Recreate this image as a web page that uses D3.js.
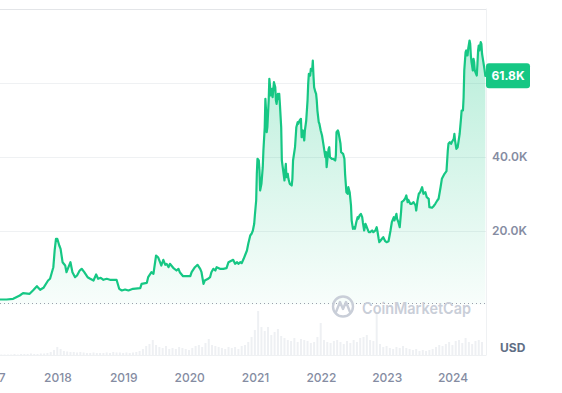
<!DOCTYPE html>
<html>
<head>
<meta charset="utf-8">
<script src="https://cdn.jsdelivr.net/npm/d3@7"></script>
<style>
  html, body { margin: 0; padding: 0; background: #fff; }
  svg { display: block; font-family: Inter, "Noto Sans", sans-serif; }
</style>
</head>
<body>
<script>
// price series, decimal year -> price in thousands of USD
var priceYears = [
  2017.12, 2017.22, 2017.32, 2017.42, 2017.47, 2017.57, 2017.62, 2017.68, 2017.73, 2017.78,
  2017.85, 2017.88, 2017.93, 2017.95, 2017.97, 2017.99, 2018.02, 2018.04, 2018.07, 2018.11,
  2018.13, 2018.16, 2018.19, 2018.22, 2018.26, 2018.29, 2018.33, 2018.36, 2018.40, 2018.45,
  2018.49, 2018.54, 2018.58, 2018.61, 2018.65, 2018.69, 2018.74, 2018.79, 2018.89, 2018.93,
  2018.97, 2019.02, 2019.07, 2019.14, 2019.25, 2019.27, 2019.35, 2019.37, 2019.42, 2019.45,
  2019.49, 2019.52, 2019.55, 2019.57, 2019.60, 2019.63, 2019.65, 2019.68, 2019.70, 2019.75,
  2019.80, 2019.83, 2019.85, 2019.90, 2019.96, 2020.01, 2020.03, 2020.08, 2020.12, 2020.16,
  2020.18, 2020.21, 2020.23, 2020.28, 2020.31, 2020.33, 2020.36, 2020.39, 2020.41, 2020.46,
  2020.51, 2020.56, 2020.59, 2020.64, 2020.66, 2020.69, 2020.72, 2020.74, 2020.77, 2020.79,
  2020.82, 2020.84, 2020.87, 2020.89, 2020.92, 2020.94, 2020.96, 2020.98, 2020.99, 2021.01,
  2021.02, 2021.03, 2021.05, 2021.06, 2021.07, 2021.09, 2021.11, 2021.12, 2021.14, 2021.15,
  2021.16, 2021.17, 2021.18, 2021.20, 2021.21, 2021.22, 2021.23, 2021.25, 2021.26, 2021.28,
  2021.30, 2021.31, 2021.32, 2021.34, 2021.35, 2021.36, 2021.37, 2021.39, 2021.40, 2021.42,
  2021.44, 2021.45, 2021.46, 2021.47, 2021.49, 2021.50, 2021.52, 2021.55, 2021.56, 2021.57,
  2021.60, 2021.62, 2021.64, 2021.65, 2021.67, 2021.69, 2021.70, 2021.72, 2021.74, 2021.75,
  2021.77, 2021.79, 2021.80, 2021.81, 2021.83, 2021.84, 2021.86, 2021.87, 2021.88, 2021.89,
  2021.91, 2021.92, 2021.93, 2021.94, 2021.96, 2021.97, 2021.99, 2022.01, 2022.03, 2022.06,
  2022.07, 2022.08, 2022.10, 2022.11, 2022.12, 2022.13, 2022.16, 2022.18, 2022.21, 2022.22,
  2022.23, 2022.25, 2022.26, 2022.29, 2022.30, 2022.33, 2022.35, 2022.36, 2022.38, 2022.40,
  2022.41, 2022.43, 2022.45, 2022.46, 2022.48, 2022.50, 2022.51, 2022.53, 2022.55, 2022.56,
  2022.58, 2022.60, 2022.62, 2022.63, 2022.65, 2022.67, 2022.68, 2022.70, 2022.72, 2022.74,
  2022.77, 2022.79, 2022.82, 2022.84, 2022.85, 2022.87, 2022.88, 2022.90, 2022.92, 2022.94,
  2022.97, 2022.99, 2023.02, 2023.05, 2023.07, 2023.10, 2023.11, 2023.14, 2023.15, 2023.17,
  2023.19, 2023.21, 2023.22, 2023.25, 2023.27, 2023.29, 2023.31, 2023.32, 2023.35, 2023.37,
  2023.40, 2023.43, 2023.44, 2023.46, 2023.48, 2023.50, 2023.53, 2023.55, 2023.58, 2023.60,
  2023.63, 2023.64, 2023.68, 2023.70, 2023.73, 2023.76, 2023.78, 2023.81, 2023.83, 2023.87,
  2023.90, 2023.92, 2023.93, 2023.95, 2023.97, 2023.98, 2024.01, 2024.02, 2024.03, 2024.05,
  2024.07, 2024.10, 2024.12, 2024.13, 2024.15, 2024.16, 2024.17, 2024.19, 2024.20, 2024.21,
  2024.22, 2024.23, 2024.25, 2024.26, 2024.27, 2024.28, 2024.30, 2024.31, 2024.32, 2024.33,
  2024.36, 2024.37, 2024.38, 2024.39, 2024.40, 2024.42, 2024.43, 2024.44, 2024.46, 2024.48,
  2024.49
];
var priceK = [
  1.35, 1.35, 1.54, 2.43, 3.05, 2.89, 3.78, 4.95, 3.97, 4.51,
  6.49, 6.95, 10.08, 14.6, 17.76, 17.76, 15.95, 15.05, 11.43, 10.54,
  8.73, 10.08, 11.43, 8.73, 7.38, 7.84, 9.19, 9.65, 8.73, 7.38,
  6.95, 6.49, 8.11, 6.95, 7.22, 6.68, 6.95, 6.68, 6.68, 4.24,
  3.78, 4.05, 3.78, 4.24, 4.41, 5.59, 5.86, 7.38, 8.73, 8.30,
  13.24, 12.78, 11.43, 10.54, 12.08, 10.73, 11.0, 10.08, 11.0, 9.92,
  9.19, 9.65, 8.73, 7.65, 7.65, 7.65, 8.73, 10.08, 10.73, 9.65,
  8.73, 5.59, 6.49, 6.95, 7.38, 8.73, 9.65, 9.19, 10.08, 9.65,
  9.65, 9.81, 11.43, 11.89, 12.08, 11.0, 11.43, 11.0, 11.43, 11.16,
  12.35, 13.24, 14.59, 16.41, 18.65, 19.11, 20.0, 21.81, 24.05, 28.11,
  35.32, 39.38, 38.92, 36.22, 30.81, 32.62, 37.11, 41.62, 47.92, 55.59,
  52.43, 46.57, 47.92, 55.14, 61.0, 59.19, 56.49, 58.3, 56.03, 60.08,
  58.73, 55.14, 54.24, 56.95, 55.59, 56.95, 54.24, 47.92, 38.92, 36.22,
  33.51, 36.22, 38.03, 34.41, 35.32, 33.97, 32.62, 32.16, 33.97, 38.92,
  42.51, 47.92, 49.27, 48.84, 49.73, 50.19, 45.22, 47.03, 44.32, 47.03,
  49.73, 55.14, 59.65, 62.35, 61.89, 63.7, 63.24, 65.95, 61.89, 58.73,
  57.38, 56.95, 55.14, 52.43, 49.27, 48.84, 47.03, 45.68, 43.43, 39.81,
  41.16, 37.11, 40.73, 42.08, 42.51, 39.81, 39.38, 39.38, 38.92, 40.27,
  46.57, 47.03, 46.57, 43.5, 41.16, 40.73, 39.38, 35.32, 30.35, 29.92,
  31.7, 30.35, 26.76, 22.7, 20.46, 20.89, 20.46, 22.24, 23.59, 23.16,
  24.05, 24.51, 23.59, 22.24, 20.0, 21.81, 21.35, 20.46, 19.54, 19.54,
  20.0, 19.54, 20.0, 20.89, 20.0, 17.76, 16.84, 17.3, 17.76, 18.19,
  17.11, 16.84, 17.11, 20.0, 22.24, 23.59, 22.7, 24.51, 23.16, 22.24,
  20.89, 24.95, 27.65, 28.11, 28.57, 29.46, 27.65, 28.3, 27.22, 27.22,
  27.65, 26.76, 25.41, 28.11, 29.92, 30.35, 31.7, 29.92, 30.35, 29.0,
  28.57, 26.3, 26.14, 26.49, 27.22, 28.11, 28.57, 31.7, 33.97, 35.32,
  36.03, 41.62, 43.43, 43.86, 43.43, 43.86, 44.78, 46.14, 44.32, 42.08,
  42.51, 46.14, 50.19, 52.43, 52.43, 56.03, 63.24, 68.19, 68.65, 67.3,
  67.3, 69.11, 71.35, 70.46, 67.3, 65.49, 63.24, 66.41, 65.49, 63.24,
  61.89, 65.05, 68.65, 70.0, 68.65, 70.89, 70.46, 67.76, 65.49, 63.24,
  61.8
];

// trading volume, one bar every 0.05 year from 2017.15 (relative units)
var volStart = 2017.15, volStep = 0.05;
var volumes = [
  1, 1, 1, 1, 2, 1, 2, 2, 2, 3, 2, 2, 3, 3, 4,
  6, 10, 16, 12,
  8, 7, 6, 6, 5, 6, 5, 4, 4, 5, 4, 4, 4, 5, 4, 6, 5,
  5, 4, 5, 4, 5, 6, 8,
  12, 18, 22, 30, 20, 16,
  14, 18, 12, 14, 12, 16, 14, 12, 10,
  14, 18, 20, 16, 24, 32, 20, 18, 16,
  14, 12, 16, 14, 16, 12, 18, 20,
  26, 36, 50, 88, 56,
  48, 56, 40, 46, 52, 38, 34,
  30, 28, 34, 26, 32, 30, 28, 24, 26, 36, 64, 30,
  26, 24, 28, 30, 26, 22, 28, 24, 30, 26, 34, 36,
  40, 30, 28, 86,
  22, 16, 18, 14, 12, 16, 14, 18, 14, 12, 10, 12,
  8, 10, 8, 10, 12, 16, 20, 18, 22,
  26, 20, 28, 30, 24, 34, 26, 22, 28, 30, 26
];

var yearTicks = [2017, 2018, 2019, 2020, 2021, 2022, 2023, 2024];
var priceTicks = [20, 40, 60, 80];
var lastPrice = 61.8;

var W = 562, H = 393;
var green = "#16c784";

var svg = d3.select("body").append("svg").attr("width", W).attr("height", H);

var x = d3.scaleLinear().domain([2017.12, 2024.5]).range([0, 486]);
var y = d3.scaleLinear().domain([0, 80]).range([304.5, 8.5]);
var yv = d3.scaleLinear().domain([0, 100]).range([355, 305]);

var data = priceYears.map(function(t, i) { return {t: t, p: priceK[i]}; });

// gradient under the line
var grad = svg.append("defs").append("linearGradient")
  .attr("id", "fillGrad").attr("gradientUnits", "userSpaceOnUse")
  .attr("x1", 0).attr("x2", 0).attr("y1", y(70)).attr("y2", y(0));
grad.append("stop").attr("offset", 0).attr("stop-color", green).attr("stop-opacity", 0.3);
grad.append("stop").attr("offset", 1).attr("stop-color", green).attr("stop-opacity", 0.03);

// grid lines
svg.append("g").selectAll("line").data(priceTicks).join("line")
  .attr("x1", 0).attr("x2", 486)
  .attr("y1", function(d) { return Math.round(y(d)) + 0.5; })
  .attr("y2", function(d) { return Math.round(y(d)) + 0.5; })
  .attr("stroke", function(d) { return d === 80 ? "#e3e5e8" : "#eff1f3"; })
  .attr("stroke-width", 1);

// right border and volume baseline
svg.append("line").attr("x1", 486.5).attr("x2", 486.5).attr("y1", y(80)).attr("y2", 355.5)
  .attr("stroke", "#eff1f3");
svg.append("line").attr("x1", 0).attr("x2", 486).attr("y1", 355.5).attr("y2", 355.5)
  .attr("stroke", "#eff1f3");

// volume bars
var bw = x(volStart + volStep) - x(volStart);
svg.append("g").selectAll("rect").data(volumes).join("rect")
  .attr("x", function(d, i) { return x(volStart + i * volStep) - bw / 2; })
  .attr("width", bw * 0.6)
  .attr("y", function(d) { return yv(d); })
  .attr("height", function(d) { return yv(0) - yv(d); })
  .attr("fill", "#eef0f3");

// area + line
var area = d3.area().x(function(d) { return x(d.t); }).y0(y(0)).y1(function(d) { return y(d.p); });
var line = d3.line().x(function(d) { return x(d.t); }).y(function(d) { return y(d.p); });

svg.append("path").datum(data).attr("d", area).attr("fill", "url(#fillGrad)");

// dotted reference line
svg.append("line").attr("x1", 0).attr("x2", 486).attr("y1", 303.5).attr("y2", 303.5)
  .attr("stroke", "#9aa1ad").attr("stroke-width", 1).attr("stroke-dasharray", "1,3");

svg.append("path").datum(data).attr("d", line)
  .attr("fill", "none").attr("stroke", green).attr("stroke-width", 2.2)
  .attr("stroke-linejoin", "round").attr("stroke-linecap", "round");

// watermark
var wm = svg.append("g");
wm.append("circle").attr("cx", 343).attr("cy", 306.5).attr("r", 10)
  .attr("fill", "none").attr("stroke", "#c9ced8").attr("stroke-width", 2.4);
wm.append("path").attr("d", "M336,312 L340,302 L343,309 L346,302 L350,312")
  .attr("fill", "none").attr("stroke", "#c9ced8").attr("stroke-width", 2.4)
  .attr("stroke-linejoin", "round").attr("stroke-linecap", "round");
wm.append("text").attr("x", 362).attr("y", 313.5).text("CoinMarketCap")
  .attr("font-size", 15.5).attr("font-weight", 600).attr("fill", "#c9ced8")
  .attr("textLength", 109).attr("lengthAdjust", "spacingAndGlyphs");

// y labels
var badgeY = y(lastPrice);
svg.append("g").selectAll("text").data(priceTicks.filter(function(d) {
    return d < 80 && Math.abs(y(d) - badgeY) > 14;
  })).join("text")
  .attr("x", 492).attr("y", function(d) { return y(d) + 4.5; })
  .text(function(d) { return d3.format(".1f")(d) + "K"; })
  .attr("font-size", 12).attr("font-weight", 600).attr("fill", "#858ca2");

// last price badge
svg.append("rect").attr("x", 486).attr("y", badgeY - 12.5).attr("width", 44).attr("height", 25)
  .attr("rx", 3).attr("fill", green);
svg.append("text").attr("x", 508).attr("y", badgeY + 4.5).attr("text-anchor", "middle")
  .text(lastPrice.toFixed(1) + "K")
  .attr("font-size", 12).attr("font-weight", 700).attr("fill", "#fff");

// USD label
svg.append("text").attr("x", 500).attr("y", 351.5).text("USD")
  .attr("font-size", 12).attr("font-weight", 700).attr("fill", "#616e85");

// x labels (the 2017 label is cut by the left edge, as in the source chart)
svg.append("g").selectAll("text").data(yearTicks).join("text")
  .attr("x", function(d) { return x(d); }).attr("y", 381.5)
  .attr("text-anchor", "middle").text(function(d) { return d; })
  .attr("font-size", 12).attr("font-weight", 500).attr("fill", "#858ca2");
</script>
</body>
</html>
